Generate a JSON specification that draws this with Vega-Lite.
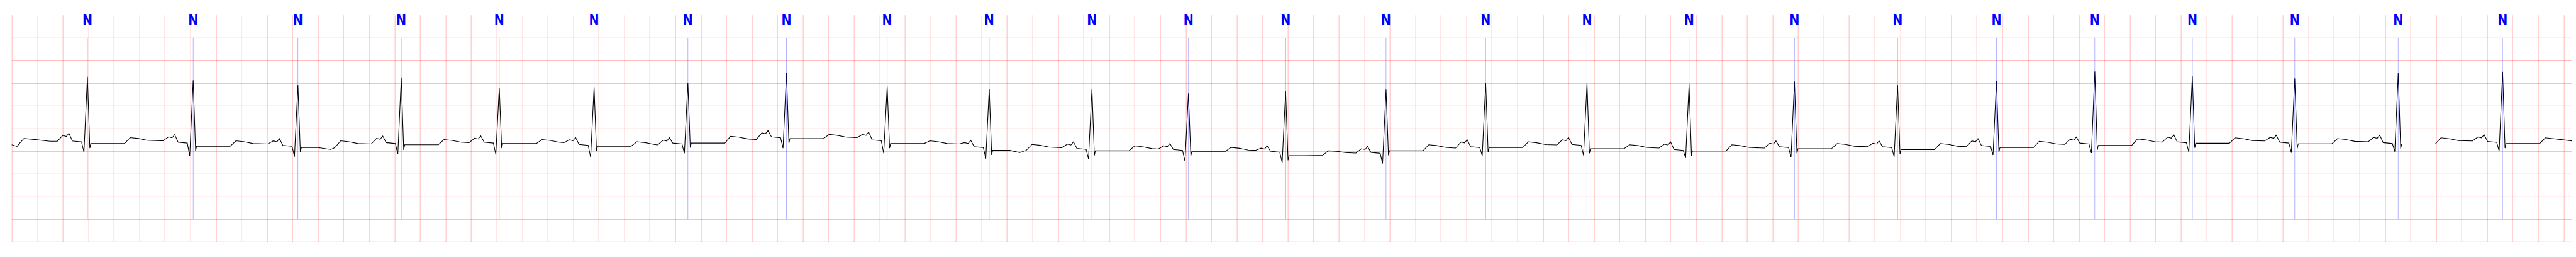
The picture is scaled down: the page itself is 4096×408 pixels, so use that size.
{
"$schema": "https://vega.github.io/schema/vega-lite/v6.json",
"width": 4071,
"height": 360.4,
"autosize": {"type": "none"},
"padding": {"left": 18.68, "top": 23.85, "right": 0, "bottom": 0},
"background": "white",
"config": {"view": {"stroke": null}},
"datasets": {
"beats": [
{"t":0.593,"label":"N"},{"t":1.4222,"label":"N"},{"t":2.2426,"label":"N"},{"t":3.053,"label":"N"},{"t":3.8205,"label":"N"},
{"t":4.5638,"label":"N"},{"t":5.2991,"label":"N"},{"t":6.0719,"label":"N"},{"t":6.8609,"label":"N"},{"t":7.6606,"label":"N"},
{"t":8.4656,"label":"N"},{"t":9.2223,"label":"N"},{"t":9.9844,"label":"N"},{"t":10.7707,"label":"N"},{"t":11.5516,"label":"N"},
{"t":12.3459,"label":"N"},{"t":13.1456,"label":"N"},{"t":13.9721,"label":"N"},{"t":14.7798,"label":"N"},{"t":15.5553,"label":"N"},
{"t":16.3255,"label":"N"},{"t":17.0903,"label":"N"},{"t":17.8927,"label":"N"},{"t":18.7036,"label":"N"},{"t":19.5215,"label":"N"}
],
"ecg": [
{"t":0,"v":0.144},{"t":0.042,"v":0.106},{"t":0.069,"v":0.2},{"t":0.096,"v":0.28},{"t":0.177,"v":0.26},{"t":0.3,"v":0.22},
{"t":0.357,"v":0.22},{"t":0.4,"v":0.347},{"t":0.428,"v":0.327},{"t":0.448,"v":0.397},{"t":0.475,"v":0.227},{"t":0.547,"v":0.207},{"t":0.566,"v":-0.02},{"t":0.593,"v":1.64},{"t":0.612,"v":0.07},{"t":0.62,"v":0.17},{"t":0.754,"v":0.17},{"t":0.883,"v":0.17},{"t":0.928,"v":0.3},{"t":0.993,"v":0.28},{"t":1.063,"v":0.24},
{"t":1.186,"v":0.23},{"t":1.229,"v":0.316},{"t":1.257,"v":0.296},{"t":1.277,"v":0.366},{"t":1.304,"v":0.2},{"t":1.376,"v":0.18},{"t":1.395,"v":-0.1},{"t":1.422,"v":1.565},{"t":1.441,"v":0.01},{"t":1.449,"v":0.11},{"t":1.583,"v":0.11},{"t":1.712,"v":0.11},{"t":1.757,"v":0.23},{"t":1.822,"v":0.21},{"t":1.892,"v":0.17},
{"t":2.007,"v":0.16},{"t":2.05,"v":0.228},{"t":2.078,"v":0.208},{"t":2.098,"v":0.278},{"t":2.125,"v":0.13},{"t":2.197,"v":0.11},{"t":2.216,"v":-0.12},{"t":2.243,"v":1.457},{"t":2.262,"v":-0.02},{"t":2.27,"v":0.08},{"t":2.404,"v":0.08},{"t":2.5,"v":0.04},{"t":2.533,"v":0.08},{"t":2.578,"v":0.23},{"t":2.643,"v":0.21},{"t":2.713,"v":0.17},
{"t":2.817,"v":0.16},{"t":2.86,"v":0.284},{"t":2.888,"v":0.264},{"t":2.908,"v":0.334},{"t":2.935,"v":0.19},{"t":3.007,"v":0.17},{"t":3.026,"v":-0.065},{"t":3.053,"v":1.614},{"t":3.072,"v":0.03},{"t":3.08,"v":0.144},{"t":3.214,"v":0.144},{"t":3.343,"v":0.144},{"t":3.388,"v":0.258},{"t":3.453,"v":0.238},{"t":3.523,"v":0.198},
{"t":3.585,"v":0.19},{"t":3.628,"v":0.289},{"t":3.656,"v":0.269},{"t":3.676,"v":0.339},{"t":3.703,"v":0.2},{"t":3.775,"v":0.18},{"t":3.794,"v":-0.07},{"t":3.821,"v":1.4},{"t":3.84,"v":0.07},{"t":3.848,"v":0.17},{"t":3.982,"v":0.17},{"t":4.111,"v":0.17},{"t":4.156,"v":0.258},{"t":4.221,"v":0.238},{"t":4.291,"v":0.198},
{"t":4.328,"v":0.19},{"t":4.371,"v":0.253},{"t":4.399,"v":0.233},{"t":4.419,"v":0.303},{"t":4.446,"v":0.15},{"t":4.518,"v":0.13},{"t":4.537,"v":-0.134},{"t":4.564,"v":1.414},{"t":4.583,"v":0.01},{"t":4.591,"v":0.11},{"t":4.725,"v":0.11},{"t":4.854,"v":0.11},{"t":4.899,"v":0.21},{"t":4.964,"v":0.19},{"t":5.034,"v":0.15},
{"t":5.063,"v":0.14},{"t":5.106,"v":0.246},{"t":5.134,"v":0.226},{"t":5.154,"v":0.296},{"t":5.181,"v":0.18},{"t":5.253,"v":0.16},{"t":5.272,"v":-0.045},{"t":5.299,"v":1.508},{"t":5.318,"v":0.08},{"t":5.326,"v":0.18},{"t":5.46,"v":0.18},{"t":5.589,"v":0.18},{"t":5.634,"v":0.33},{"t":5.699,"v":0.31},{"t":5.769,"v":0.27},
{"t":5.836,"v":0.26},{"t":5.879,"v":0.405},{"t":5.907,"v":0.385},{"t":5.927,"v":0.455},{"t":5.954,"v":0.316},{"t":6.026,"v":0.296},{"t":6.045,"v":0.068},{"t":6.072,"v":1.722},{"t":6.091,"v":0.178},{"t":6.099,"v":0.278},{"t":6.233,"v":0.278},{"t":6.362,"v":0.278},{"t":6.407,"v":0.37},{"t":6.472,"v":0.35},{"t":6.542,"v":0.31},
{"t":6.625,"v":0.3},{"t":6.668,"v":0.37},{"t":6.696,"v":0.35},{"t":6.716,"v":0.42},{"t":6.743,"v":0.25},{"t":6.815,"v":0.23},{"t":6.834,"v":-0.045},{"t":6.861,"v":1.43},{"t":6.88,"v":0.07},{"t":6.888,"v":0.17},{"t":7.022,"v":0.17},{"t":7.151,"v":0.17},{"t":7.196,"v":0.23},{"t":7.261,"v":0.21},{"t":7.331,"v":0.17},
{"t":7.425,"v":0.16},{"t":7.468,"v":0.19},{"t":7.496,"v":0.17},{"t":7.516,"v":0.24},{"t":7.543,"v":0.1},{"t":7.615,"v":0.08},{"t":7.634,"v":-0.16},{"t":7.661,"v":1.374},{"t":7.68,"v":-0.08},{"t":7.688,"v":0.02},{"t":7.822,"v":0.02},{"t":7.9,"v":-0.03},{"t":7.951,"v":0.02},{"t":7.996,"v":0.151},{"t":8.061,"v":0.131},{"t":8.131,"v":0.091},
{"t":8.23,"v":0.08},{"t":8.273,"v":0.157},{"t":8.301,"v":0.137},{"t":8.321,"v":0.207},{"t":8.348,"v":0.063},{"t":8.42,"v":0.043},{"t":8.439,"v":-0.17},{"t":8.466,"v":1.376},{"t":8.485,"v":-0.09},{"t":8.493,"v":0.01},{"t":8.627,"v":0.01},{"t":8.756,"v":0.01},{"t":8.801,"v":0.119},{"t":8.866,"v":0.099},{"t":8.936,"v":0.059},
{"t":8.986,"v":0.05},{"t":9.029,"v":0.12},{"t":9.057,"v":0.1},{"t":9.077,"v":0.17},{"t":9.104,"v":0.04},{"t":9.176,"v":0.02},{"t":9.195,"v":-0.22},{"t":9.222,"v":1.273},{"t":9.241,"v":-0.1},{"t":9.249,"v":0},{"t":9.383,"v":0},{"t":9.512,"v":0},{"t":9.557,"v":0.086},{"t":9.622,"v":0.066},{"t":9.692,"v":0.026},
{"t":9.748,"v":0.02},{"t":9.791,"v":0.069},{"t":9.819,"v":0.049},{"t":9.839,"v":0.119},{"t":9.866,"v":0},{"t":9.938,"v":-0.02},{"t":9.957,"v":-0.25},{"t":9.984,"v":1.318},{"t":10.003,"v":-0.2},{"t":10.011,"v":-0.095},{"t":10.145,"v":-0.095},{"t":10.274,"v":-0.09},{"t":10.319,"v":0.01},{"t":10.384,"v":0},{"t":10.454,"v":-0.03},
{"t":10.535,"v":-0.04},{"t":10.578,"v":0.056},{"t":10.606,"v":0.036},{"t":10.626,"v":0.106},{"t":10.653,"v":-0.025},{"t":10.725,"v":-0.045},{"t":10.744,"v":-0.27},{"t":10.771,"v":1.356},{"t":10.79,"v":-0.09},{"t":10.798,"v":0.01},{"t":10.932,"v":0.01},{"t":11.061,"v":0.01},{"t":11.106,"v":0.144},{"t":11.171,"v":0.124},{"t":11.241,"v":0.084},
{"t":11.316,"v":0.07},{"t":11.359,"v":0.203},{"t":11.387,"v":0.183},{"t":11.407,"v":0.253},{"t":11.434,"v":0.1},{"t":11.506,"v":0.08},{"t":11.525,"v":-0.1},{"t":11.552,"v":1.5},{"t":11.571,"v":-0.02},{"t":11.579,"v":0.08},{"t":11.713,"v":0.08},{"t":11.842,"v":0.08},{"t":11.887,"v":0.207},{"t":11.952,"v":0.187},{"t":12.022,"v":0.147},
{"t":12.11,"v":0.14},{"t":12.153,"v":0.253},{"t":12.181,"v":0.233},{"t":12.201,"v":0.303},{"t":12.228,"v":0.15},{"t":12.3,"v":0.13},{"t":12.319,"v":-0.09},{"t":12.346,"v":1.5},{"t":12.365,"v":-0.044},{"t":12.373,"v":0.056},{"t":12.507,"v":0.056},{"t":12.636,"v":0.056},{"t":12.681,"v":0.144},{"t":12.746,"v":0.124},{"t":12.816,"v":0.084},
{"t":12.91,"v":0.07},{"t":12.953,"v":0.157},{"t":12.981,"v":0.137},{"t":13.001,"v":0.207},{"t":13.028,"v":0.04},{"t":13.1,"v":0.02},{"t":13.119,"v":-0.15},{"t":13.146,"v":1.47},{"t":13.165,"v":-0.095},{"t":13.173,"v":0.005},{"t":13.307,"v":0.005},{"t":13.436,"v":0.005},{"t":13.481,"v":0.144},{"t":13.546,"v":0.124},{"t":13.616,"v":0.084},
{"t":13.736,"v":0.07},{"t":13.779,"v":0.178},{"t":13.807,"v":0.158},{"t":13.827,"v":0.228},{"t":13.854,"v":0.1},{"t":13.926,"v":0.08},{"t":13.945,"v":-0.134},{"t":13.972,"v":1.538},{"t":13.991,"v":-0.044},{"t":13.999,"v":0.056},{"t":14.133,"v":0.056},{"t":14.262,"v":0.056},{"t":14.307,"v":0.17},{"t":14.372,"v":0.15},{"t":14.442,"v":0.11},
{"t":14.544,"v":0.1},{"t":14.587,"v":0.178},{"t":14.615,"v":0.158},{"t":14.635,"v":0.228},{"t":14.662,"v":0.1},{"t":14.734,"v":0.08},{"t":14.753,"v":-0.12},{"t":14.78,"v":1.457},{"t":14.799,"v":-0.064},{"t":14.807,"v":0.036},{"t":14.941,"v":0.036},{"t":15.07,"v":0.036},{"t":15.115,"v":0.17},{"t":15.18,"v":0.15},{"t":15.25,"v":0.11},
{"t":15.319,"v":0.1},{"t":15.362,"v":0.228},{"t":15.39,"v":0.208},{"t":15.41,"v":0.278},{"t":15.437,"v":0.126},{"t":15.509,"v":0.106},{"t":15.528,"v":-0.083},{"t":15.555,"v":1.545},{"t":15.574,"v":-0.02},{"t":15.582,"v":0.08},{"t":15.716,"v":0.08},{"t":15.845,"v":0.08},{"t":15.89,"v":0.22},{"t":15.955,"v":0.2},{"t":16.025,"v":0.16},
{"t":16.09,"v":0.15},{"t":16.133,"v":0.263},{"t":16.161,"v":0.243},{"t":16.181,"v":0.313},{"t":16.208,"v":0.18},{"t":16.28,"v":0.16},{"t":16.299,"v":-0.04},{"t":16.326,"v":1.76},{"t":16.345,"v":0.03},{"t":16.353,"v":0.13},{"t":16.487,"v":0.13},{"t":16.616,"v":0.13},{"t":16.661,"v":0.27},{"t":16.726,"v":0.25},{"t":16.796,"v":0.21},
{"t":16.854,"v":0.2},{"t":16.897,"v":0.309},{"t":16.925,"v":0.289},{"t":16.945,"v":0.359},{"t":16.972,"v":0.207},{"t":17.044,"v":0.187},{"t":17.063,"v":-0.02},{"t":17.09,"v":1.657},{"t":17.109,"v":0.077},{"t":17.117,"v":0.177},{"t":17.251,"v":0.177},{"t":17.38,"v":0.177},{"t":17.425,"v":0.296},{"t":17.49,"v":0.276},{"t":17.56,"v":0.236},
{"t":17.657,"v":0.226},{"t":17.7,"v":0.304},{"t":17.728,"v":0.284},{"t":17.748,"v":0.354},{"t":17.775,"v":0.2},{"t":17.847,"v":0.18},{"t":17.866,"v":-0.033},{"t":17.893,"v":1.606},{"t":17.912,"v":0.062},{"t":17.92,"v":0.162},{"t":18.054,"v":0.162},{"t":18.183,"v":0.162},{"t":18.228,"v":0.278},{"t":18.293,"v":0.258},{"t":18.363,"v":0.218},
{"t":18.468,"v":0.208},{"t":18.511,"v":0.304},{"t":18.539,"v":0.284},{"t":18.559,"v":0.354},{"t":18.586,"v":0.19},{"t":18.658,"v":0.17},{"t":18.677,"v":-0.008},{"t":18.704,"v":1.722},{"t":18.723,"v":0.06},{"t":18.731,"v":0.16},{"t":18.865,"v":0.16},{"t":18.994,"v":0.16},{"t":19.039,"v":0.296},{"t":19.104,"v":0.276},{"t":19.174,"v":0.236},
{"t":19.286,"v":0.226},{"t":19.329,"v":0.314},{"t":19.357,"v":0.294},{"t":19.377,"v":0.364},{"t":19.404,"v":0.215},{"t":19.476,"v":0.195},{"t":19.495,"v":0.005},{"t":19.522,"v":1.753},{"t":19.541,"v":0.07},{"t":19.549,"v":0.17},{"t":19.683,"v":0.17},{"t":19.812,"v":0.17},{"t":19.857,"v":0.296},{"t":19.922,"v":0.276},{"t":20.066,"v":0.228}
]
},
"layer": [
{
"data": {"name": "ecg"},
"mark": {"type": "line", "stroke": "black", "strokeWidth": 1.1, "interpolate": "linear"},
"encoding": {
"x": {"field": "t", "type": "quantitative", "scale": {"domain": [0, 20.066], "nice": false, "zero": false},
"axis": {"title": null, "labels": false, "ticks": false, "domain": false, "grid": true, "gridColor": "#ff0000", "gridOpacity": 0.25, "gridWidth": 1.1,
"values": [0,0.2,0.4,0.6,0.8,1,1.2,1.4,1.6,1.8,2,2.2,2.4,2.6,2.8,3,3.2,3.4,3.6,3.8,4,4.2,4.4,4.6,4.8,5,5.2,5.4,5.6,5.8,6,6.2,6.4,6.6,6.8,7,7.2,7.4,7.6,7.8,8,8.2,8.4,8.6,8.8,9,9.2,9.4,9.6,9.8,10,10.2,10.4,10.6,10.8,11,11.2,11.4,11.6,11.8,12,12.2,12.4,12.6,12.8,13,13.2,13.4,13.6,13.8,14,14.2,14.4,14.6,14.8,15,15.2,15.4,15.6,15.8,16,16.2,16.4,16.6,16.8,17,17.2,17.4,17.6,17.8,18,18.2,18.4,18.6,18.8,19,19.2,19.4,19.6,19.8,20]}},
"y": {"field": "v", "type": "quantitative", "scale": {"domain": [-2, 3], "nice": false, "zero": false},
"axis": {"title": null, "labels": false, "ticks": false, "domain": false, "grid": true, "gridColor": "#ff0000", "gridOpacity": 0.25, "gridWidth": 1.1,
"values": [-2,-1.5,-1,-0.5,0,0.5,1,1.5,2,2.5]}}
}
},
{
"data": {"name": "beats"},
"mark": {"type": "rule", "stroke": "#0000ff", "strokeOpacity": 0.5, "strokeWidth": 0.6},
"encoding": {
"x": {"field": "t", "type": "quantitative"},
"y": {"datum": 2.5, "type": "quantitative"},
"y2": {"datum": -1.5}
}
},
{
"data": {"name": "beats"},
"mark": {"type": "text", "color": "#0000ff", "font": "Liberation Sans Narrow, DejaVu Sans Condensed, Liberation Sans, sans-serif", "fontWeight": "bold", "fontSize": 21.3, "align": "center", "baseline": "alphabetic"},
"encoding": {
"x": {"field": "t", "type": "quantitative"},
"y": {"datum": 2.79, "type": "quantitative"},
"text": {"field": "label"}
}
}
]
}
